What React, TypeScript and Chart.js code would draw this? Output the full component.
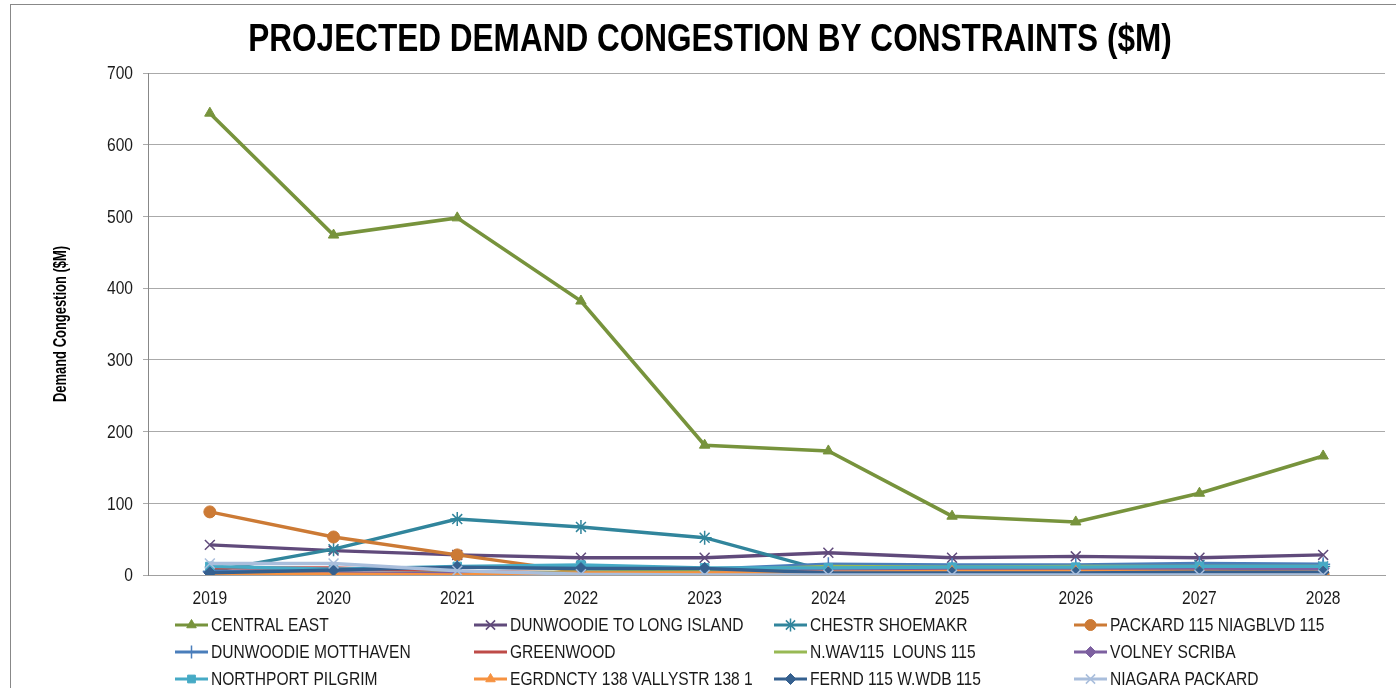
import React, { useEffect, useRef } from 'react';
import { Chart, registerables } from 'chart.js';
import { drawPoint } from 'chart.js/helpers';

Chart.register(...registerables);

// ---------- data ----------
const years = ['2019', '2020', '2021', '2022', '2023', '2024', '2025', '2026', '2027', '2028'];

const centralEast = [644, 474, 498, 382, 181, 173, 82, 74, 114, 166];
const dunwoodieToLongIsland = [42, 34, 28, 24, 24, 31, 24, 26, 24, 28];
const chestrShoemakr = [5, 36, 78, 67, 52, 5, 8, 9, 14, 12];
const packardNiagblvd = [88, 53, 28, 4, 1, 0, 0, 0, 0, 0];
const dunwoodieMotthaven = [5, 7, 11, 9, 8, 15, 14, 14, 16, 15];
const greenwood = [10, 10, 5, 3, 3, 6, 8, 8, 8, 9];
const nwavLouns = [1, 2, 3, 4, 6, 12, 11, 12, 12, 12];
const volneyScriba = [3, 3, 2, 2, 2, 7, 8, 8, 9, 9];
const northportPilgrim = [12, 8, 12, 14, 10, 10, 11, 11, 12, 12];
const egrdnctyVallystr = [2, 1, 0, 3, 3, 4, 5, 5, 5, 4];
const ferndWwdb = [3, 7, 11, 9, 9, 3, 3, 3, 4, 4];
const niagaraPackard = [16, 16, 6, 1, 0, 0, 0, 0, 0, 0];

const seriesNames = [
  'CENTRAL EAST',
  'DUNWOODIE TO LONG ISLAND',
  'CHESTR SHOEMAKR',
  'PACKARD 115 NIAGBLVD 115',
  'DUNWOODIE MOTTHAVEN',
  'GREENWOOD',
  'N.WAV115  LOUNS 115',
  'VOLNEY SCRIBA',
  'NORTHPORT PILGRIM',
  'EGRDNCTY 138 VALLYSTR 138 1',
  'FERND 115 W.WDB 115',
  'NIAGARA PACKARD',
];
const seriesValues = [
  centralEast,
  dunwoodieToLongIsland,
  chestrShoemakr,
  packardNiagblvd,
  dunwoodieMotthaven,
  greenwood,
  nwavLouns,
  volneyScriba,
  northportPilgrim,
  egrdnctyVallystr,
  ferndWwdb,
  niagaraPackard,
];
const seriesColors = [
  '#77933C', '#604A7B', '#31859C', '#CC7A35',
  '#4A7EBB', '#BE4B48', '#98B954', '#7D60A0',
  '#46AAC5', '#F69240', '#35608F', '#A9BEDC',
];
const seriesMarkers: (string | false)[] = [
  'triangle', 'crossRot', 'star', 'circle',
  'cross', false, false, 'rectRot',
  'rect', 'triangle', 'rectRot', 'crossRot',
];

const yTicks = [0, 100, 200, 300, 400, 500, 600, 700];

const TITLE = 'PROJECTED DEMAND CONGESTION BY CONSTRAINTS ($M)';
const Y_TITLE = 'Demand Congestion ($M)';

const FONT = '"Liberation Sans", Arial, sans-serif';
const NARROW = 0.82;

const LEGEND_COLS = [175, 474, 774, 1074];
const LEGEND_ROWS = [625, 652, 679];

function narrowText(
  ctx: CanvasRenderingContext2D,
  text: string,
  x: number,
  y: number,
  font: string,
  align: CanvasTextAlign,
  color: string,
  scaleX = NARROW,
  rotate = 0,
) {
  ctx.save();
  ctx.font = font;
  ctx.fillStyle = color;
  ctx.textAlign = align;
  ctx.textBaseline = 'middle';
  ctx.translate(x, y);
  if (rotate) ctx.rotate(rotate);
  ctx.scale(scaleX, 1);
  ctx.fillText(text, 0, 0);
  ctx.restore();
}

const framePlugin = {
  id: 'frameAndTitle',
  beforeDraw(chart: any) {
    const ctx = chart.ctx;
    ctx.save();
    ctx.fillStyle = '#ffffff';
    ctx.fillRect(0, 0, chart.width, chart.height);
    ctx.strokeStyle = '#888888';
    ctx.lineWidth = 1;
    ctx.strokeRect(10.5, 4.5, 1400, 720);
    ctx.restore();
  },
  afterDraw(chart: any) {
    const ctx: CanvasRenderingContext2D = chart.ctx;
    // title
    narrowText(ctx, TITLE, 710, 41, `bold 38px ${FONT}`, 'center', '#000000', 0.83);

    // y axis title
    const area = chart.chartArea;
    narrowText(ctx, Y_TITLE, 61, (area.top + area.bottom) / 2, `bold 17.5px ${FONT}`, 'center', '#000000', 0.74, -Math.PI / 2);

    // y tick labels
    const ys = chart.scales.y;
    yTicks.forEach((v) => {
      narrowText(ctx, String(v), 133, ys.getPixelForValue(v) + 1, `19px ${FONT}`, 'right', '#1a1a1a');
    });
    // x tick labels
    const xs = chart.scales.x;
    years.forEach((lab, i) => {
      narrowText(ctx, lab, xs.getPixelForValue(i), area.bottom + 24, `19px ${FONT}`, 'center', '#1a1a1a');
    });

    // legend
    ctx.save();
    chart.data.datasets.forEach((ds: any, i: number) => {
      const x = LEGEND_COLS[i % 4];
      const y = LEGEND_ROWS[Math.floor(i / 4)];
      ctx.strokeStyle = ds.borderColor;
      ctx.lineWidth = 3.2;
      ctx.beginPath();
      ctx.moveTo(x, y);
      ctx.lineTo(x + 33, y);
      ctx.stroke();
      if (ds.pointStyle && ds.pointRadius > 0) {
        ctx.fillStyle = ds.pointBackgroundColor;
        ctx.strokeStyle = ds.pointBorderColor;
        ctx.lineWidth = ds.pointBorderWidth;
        drawPoint(ctx, {
          pointStyle: ds.pointStyle,
          radius: ds.pointRadius - 0.5,
          borderWidth: ds.pointBorderWidth,
          rotation: 0,
        } as any, x + 16.5, y);
      }
      narrowText(ctx, ds.label, x + 36, y + 1, `19px ${FONT}`, 'left', '#1a1a1a');
    });
    ctx.restore();
  },
};

export default function App() {
  const canvasRef = useRef<HTMLCanvasElement | null>(null);

  useEffect(() => {
    document.body.style.margin = '0';
    const canvas = canvasRef.current;
    if (!canvas) return;
    const n = seriesNames.length;
    const datasets = seriesNames.map((name, i) => {
      const marker = seriesMarkers[i];
      const isCross = marker === 'cross' || marker === 'crossRot' || marker === 'star';
      return {
        label: name,
        data: seriesValues[i],
        borderColor: seriesColors[i],
        backgroundColor: seriesColors[i],
        borderWidth: i === 0 ? 3.6 : 3.4,
        pointStyle: marker || 'circle',
        pointRadius: marker ? (isCross ? 7 : 6) : 0,
        pointBackgroundColor: seriesColors[i],
        pointBorderColor: seriesColors[i],
        pointBorderWidth: isCross ? 1.5 : 1,
        tension: 0,
        order: n - i,
      };
    });

    const chart = new Chart(canvas, {
      type: 'line',
      data: { labels: years, datasets },
      options: {
        responsive: false,
        animation: false,
        devicePixelRatio: 1,
        layout: { padding: { left: 46, top: 73, right: 11, bottom: 78 } },
        plugins: {
          legend: { display: false },
          title: { display: false },
          tooltip: { enabled: false },
        },
        scales: {
          x: {
            type: 'category',
            offset: true,
            grid: { display: false, drawTicks: false },
            border: { display: true, color: '#A0A0A0', width: 1 },
            ticks: { display: false, autoSkip: false },
            afterFit: (s: any) => { s.height = 35; },
          },
          y: {
            min: 0,
            max: 700,
            afterBuildTicks: (s: any) => { s.ticks = yTicks.map((v) => ({ value: v })); },
            grid: { color: '#AAAAAA', lineWidth: 1, tickLength: 5, drawTicks: true },
            border: { display: true, color: '#888888', width: 1 },
            ticks: { display: false },
            title: { display: false },
            afterFit: (s: any) => { s.width = 102; },
          },
        },
      },
      plugins: [framePlugin],
    } as any);

    return () => { chart.destroy(); };
  }, []);

  return (
    <div style={{ position: 'fixed', left: 0, top: 0, width: 1396, height: 688 }}>
      <canvas ref={canvasRef} width={1396} height={688} style={{ width: 1396, height: 688, display: 'block' }} />
    </div>
  );
}
